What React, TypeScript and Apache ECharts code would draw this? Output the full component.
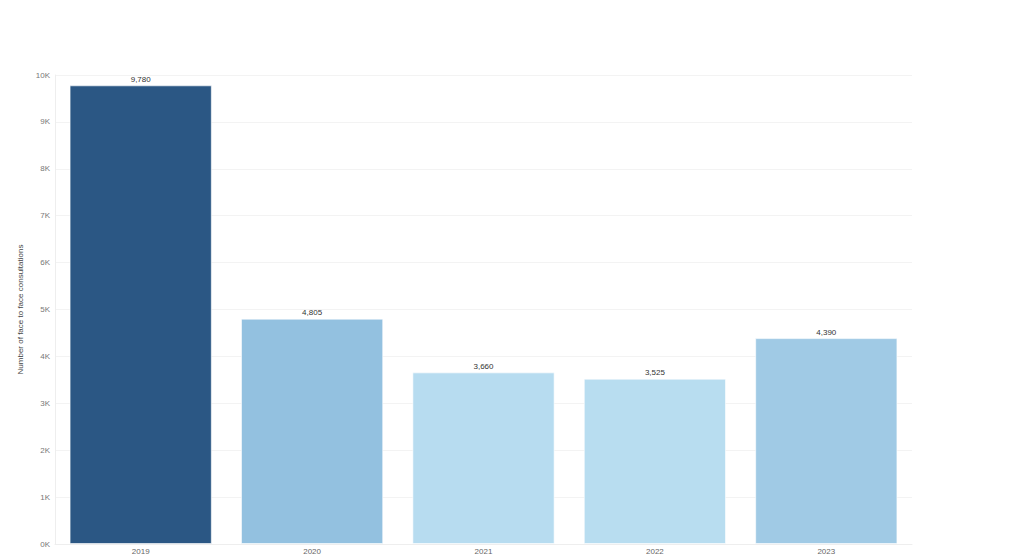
import React, { useEffect, useRef } from "react";
import * as echarts from "echarts";

const years = ["2019", "2020", "2021", "2022", "2023"];
const consultations = [9780, 4805, 3660, 3525, 4390];
const barColors = ["#2b5784", "#93c1e0", "#b7dcf0", "#b8ddf0", "#a0cae5"];

const App = () => {
  const chartRef = useRef<HTMLDivElement>(null);

  useEffect(() => {
    if (!chartRef.current) return;
    document.body.style.margin = "0";
    const chart = echarts.init(chartRef.current, undefined, { renderer: "svg" });

    chart.setOption({
      animation: false,
      backgroundColor: "#ffffff",
      textStyle: { fontFamily: "Liberation Sans, Arial, sans-serif" },
      grid: { left: 55, right: 112, top: 75, bottom: 12, containLabel: false },
      xAxis: {
        type: "category",
        data: years,
        axisLine: { show: true, lineStyle: { color: "#eeeeee" } },
        axisTick: { show: false },
        axisLabel: { color: "#666666", fontSize: 8, margin: 3 },
      },
      yAxis: {
        type: "value",
        min: 0,
        max: 10000,
        interval: 1000,
        name: "Number of face to face consultations",
        nameLocation: "middle",
        nameGap: 29,
        nameTextStyle: { color: "#444444", fontSize: 8 },
        axisLine: { show: true, lineStyle: { color: "#eeeeee" } },
        axisTick: { show: false },
        splitLine: { lineStyle: { color: "#f3f3f3" } },
        axisLabel: {
          color: "#777777",
          fontSize: 8,
          margin: 5,
          formatter: (v: number) => v / 1000 + "K",
        },
      },
      series: [
        {
          type: "bar",
          barCategoryGap: "17%",
          data: consultations.map((v, i) => ({
            value: v,
            itemStyle: { color: barColors[i] },
          })),
          itemStyle: { borderColor: "rgba(255,255,255,0.6)", borderWidth: 1 },
          label: {
            show: true,
            position: "top",
            distance: 2,
            color: "#333333",
            fontSize: 8,
            formatter: (p: any) => p.value.toLocaleString("en-US"),
          },
        },
      ],
    });

    return () => {
      chart.dispose();
    };
  }, []);

  return <div ref={chartRef} style={{ width: 1024, height: 556 }} />;
};

export default App;
